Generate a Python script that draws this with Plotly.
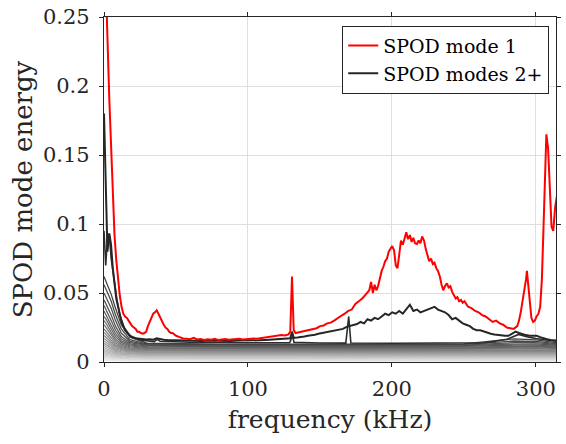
import plotly.graph_objects as go

# ---------------- data ----------------
mode1_freq = [0, 1.2, 2.4, 3.7, 4.9, 6.1, 7.3, 8.5, 9.8, 11.0, 12.2, 13.4, 14.6, 15.9, 17.1, 18.3, 19.5, 20.8,
              22.0, 23.2, 24.4, 25.6, 26.9, 28.1, 29.3, 30.5, 31.7, 33.0, 34.2, 35.4, 36.6, 37.8, 39.1, 40.3,
              41.5, 42.7, 44.0, 45.2, 46.4, 47.6, 48.8, 50.1, 52.5, 55.0, 57.4, 59.8, 62.3, 64.7, 67.1, 69.6,
              72.0, 74.5, 76.9, 79.3, 81.8, 84.2, 86.7, 89.1, 91.6, 94.0, 96.4, 98.9, 101.3, 103.8, 106.2,
              108.6, 111.1, 113.5, 115.9, 118.4, 120.8, 123.3, 125.7, 128.2, 129.4, 130.6, 131.8, 133.1,
              135.5, 137.9, 140.4, 142.8, 145.3, 147.7, 150.1, 152.6, 155.0, 157.5, 159.9, 162.4, 164.8,
              167.2, 169.7, 172.1, 174.6, 177.0, 179.4, 181.9, 184.3, 185.5, 186.8, 188.0, 189.2, 190.4,
              191.7, 192.9, 194.1, 195.3, 196.6, 197.8, 199.0, 200.2, 201.5, 202.7, 203.9, 205.1, 206.3,
              207.6, 208.8, 210.0, 211.2, 212.5, 213.7, 214.9, 216.1, 217.4, 218.6, 219.8, 221.0, 222.3,
              223.5, 224.7, 225.9, 227.2, 228.4, 229.6, 230.8, 232.0, 233.3, 234.5, 235.7, 236.9, 238.2,
              239.4, 240.6, 241.8, 243.1, 244.3, 245.5, 246.7, 248.0, 249.2, 250.4, 252.9, 255.3, 257.8,
              260.2, 262.7, 265.1, 267.5, 270.0, 272.4, 274.9, 277.3, 279.8, 282.2, 284.6, 287.1, 288.3,
              289.5, 290.7, 292.0, 293.2, 293.8, 294.4, 295.6, 296.9, 298.1, 299.3, 300.5, 301.8, 303.0,
              304.2, 305.4, 306.6, 307.3, 308.5, 309.7, 310.9, 312.1, 313.4, 314.6]
mode1_energy = [0.32, 0.27, 0.235, 0.19, 0.155, 0.117, 0.092, 0.074, 0.058, 0.048, 0.040, 0.035, 0.033, 0.032,
                0.030, 0.028, 0.026, 0.025, 0.024, 0.022, 0.022, 0.021, 0.0205, 0.021, 0.022, 0.026, 0.029,
                0.032, 0.035, 0.036, 0.0375, 0.035, 0.032, 0.030, 0.027, 0.025, 0.024, 0.022, 0.021, 0.021,
                0.020, 0.019, 0.018, 0.017, 0.0168, 0.0165, 0.0175, 0.0163, 0.0166, 0.016, 0.0165, 0.0162,
                0.0168, 0.016, 0.0163, 0.0166, 0.0162, 0.0165, 0.0163, 0.0168, 0.0163, 0.0166, 0.0165,
                0.017, 0.0168, 0.0172, 0.0175, 0.0178, 0.018, 0.0185, 0.019, 0.0195, 0.0192, 0.020, 0.022,
                0.062, 0.023, 0.021, 0.0215, 0.022, 0.0225, 0.023, 0.024, 0.0245, 0.026, 0.0265, 0.028,
                0.0285, 0.030, 0.032, 0.0335, 0.035, 0.037, 0.038, 0.042, 0.044, 0.046, 0.049, 0.052, 0.058,
                0.050, 0.056, 0.052, 0.055, 0.062, 0.066, 0.069, 0.073, 0.075, 0.080, 0.082, 0.084, 0.081,
                0.070, 0.068, 0.078, 0.088, 0.085, 0.090, 0.094, 0.089, 0.092, 0.087, 0.090, 0.086, 0.0855,
                0.088, 0.086, 0.091, 0.088, 0.082, 0.078, 0.073, 0.075, 0.071, 0.072, 0.068, 0.066, 0.062,
                0.056, 0.052, 0.055, 0.057, 0.054, 0.055, 0.051, 0.048, 0.046, 0.047, 0.044, 0.045, 0.043,
                0.044, 0.040, 0.039, 0.037, 0.036, 0.034, 0.033, 0.031, 0.029, 0.030, 0.028, 0.027, 0.025,
                0.0245, 0.024, 0.026, 0.030, 0.036, 0.044, 0.050, 0.060, 0.066, 0.060, 0.045, 0.032, 0.029,
                0.030, 0.033, 0.035, 0.040, 0.060, 0.100, 0.150, 0.165, 0.155, 0.130, 0.098, 0.095, 0.112,
                0.120]

mode2_freq = [0, 1.2, 2.4, 3.7, 4.9, 6.1, 7.3, 8.5, 9.8, 11.0, 12.2, 13.4, 14.6, 17.1, 19.5, 22.0, 24.4, 26.9,
              29.3, 31.7, 34.2, 36.6, 39.1, 41.5, 44.0, 48.8, 53.7, 58.6, 63.5, 68.4, 73.2, 78.1, 83.0, 87.9,
              92.8, 97.7, 102.5, 107.4, 112.3, 117.2, 122.1, 127.0, 129.4, 130.6, 131.8, 134.3, 136.7, 139.2,
              141.6, 144.0, 146.5, 148.9, 151.4, 153.8, 156.2, 158.7, 161.1, 163.6, 166.0, 168.5, 170.9,
              173.3, 175.8, 178.2, 180.7, 183.1, 185.5, 188.0, 190.4, 192.9, 195.3, 197.8, 200.2, 202.7,
              205.1, 207.6, 210.0, 212.5, 214.9, 217.4, 219.8, 222.3, 224.7, 227.2, 229.6, 232.0, 234.5,
              236.9, 239.4, 241.8, 244.3, 246.7, 249.2, 251.6, 254.1, 256.5, 259.0, 261.4, 263.8, 266.3,
              268.7, 271.2, 273.6, 276.1, 278.5, 281.0, 283.4, 285.9, 288.3, 290.7, 293.2, 295.6, 298.1,
              300.5, 303.0, 305.4, 307.8, 310.3, 312.7, 314.6]
mode2_energy = [0.18, 0.13, 0.08, 0.093, 0.085, 0.068, 0.055, 0.046, 0.040, 0.034, 0.029, 0.026, 0.023, 0.020,
                0.018, 0.0172, 0.0168, 0.0165, 0.0163, 0.0165, 0.0162, 0.0172, 0.0165, 0.0162, 0.016, 0.0158,
                0.0157, 0.0155, 0.0156, 0.0153, 0.0155, 0.0153, 0.0155, 0.0152, 0.0155, 0.0154, 0.0156,
                0.0157, 0.016, 0.0163, 0.0166, 0.017, 0.0172, 0.022, 0.0175, 0.0178, 0.018, 0.0185, 0.019,
                0.0193, 0.0198, 0.0205, 0.021, 0.0215, 0.022, 0.0222, 0.0232, 0.0235, 0.024, 0.0255, 0.026,
                0.027, 0.0275, 0.029, 0.028, 0.031, 0.030, 0.032, 0.031, 0.033, 0.035, 0.034, 0.036, 0.035,
                0.037, 0.035, 0.038, 0.0415, 0.037, 0.038, 0.036, 0.037, 0.038, 0.039, 0.040, 0.038, 0.037,
                0.036, 0.034, 0.031, 0.032, 0.030, 0.028, 0.027, 0.026, 0.024, 0.023, 0.023, 0.022, 0.021,
                0.0205, 0.020, 0.0195, 0.0192, 0.019, 0.019, 0.0205, 0.022, 0.021, 0.020, 0.0195, 0.019,
                0.0188, 0.019, 0.018, 0.017, 0.0165, 0.016, 0.0158, 0.0155]

mode3_freq = [0, 1.2, 2.4, 3.6, 5, 7, 9, 11, 14, 18, 25, 35, 37, 39, 60, 100, 129, 131, 132, 150, 168, 170,
              171.5, 200, 240, 265, 280, 288, 295, 300, 314.6]
mode3_energy = [0.095, 0.07, 0.09, 0.093, 0.075, 0.058, 0.045, 0.034, 0.025, 0.019, 0.016, 0.0148, 0.0165,
                0.015, 0.0143, 0.0140, 0.0140, 0.019, 0.0142, 0.0138, 0.0137, 0.033, 0.0138, 0.0136, 0.0136,
                0.0140, 0.0165, 0.020, 0.018, 0.017, 0.015]

# higher modes (4 .. 30) sampled at these frequencies
higher_freq = [0, 2, 5, 8, 12, 18, 30, 80, 170, 250, 285, 300, 314.6]
higher_energy = [
    [.062, .057, .049, .039, .027, .018, .0136, .0130, .0131, .0131, .0168, .0160, .0140],
    [.056, .051, .044, .034, .024, .0162, .0130, .0126, .0127, .0127, .0152, .0150, .0133],
    [.050, .046, .039, .030, .021, .0150, .0125, .0122, .0122, .0123, .0140, .0140, .0127],
    [.045, .041, .034, .026, .0185, .0140, .0120, .0117, .0117, .0118, .0130, .0131, .0121],
    [.041, .037, .030, .023, .0168, .0132, .0115, .0112, .0112, .0113, .0122, .0123, .0115],
    [.037, .033, .027, .0205, .0153, .0124, .0110, .0107, .0107, .0108, .0115, .0116, .0109],
    [.033, .030, .024, .0185, .0142, .0117, .0104, .0102, .0102, .0103, .0108, .0109, .0103],
    [.030, .027, .0215, .0167, .0131, .0110, .0099, .0097, .0097, .0098, .0102, .0103, .0098],
    [.027, .024, .0193, .0151, .0121, .0103, .0094, .0092, .0092, .0093, .0096, .0097, .0093],
    [.024, .0215, .0173, .0137, .0112, .0097, .0089, .0087, .0087, .0088, .0090, .0091, .0088],
    [.0215, .0193, .0156, .0124, .0104, .0091, .0084, .0082, .0082, .0083, .0085, .0086, .0083],
    [.0192, .0173, .0140, .0113, .0096, .0085, .0079, .0077, .0077, .0078, .0080, .0081, .0078],
    [.0171, .0155, .0126, .0103, .0089, .0079, .0074, .0072, .0072, .0073, .0075, .0076, .0073],
    [.0152, .0138, .0113, .0094, .0082, .0073, .0069, .0067, .0067, .0068, .0070, .0071, .0068],
    [.0135, .0123, .0101, .0085, .0075, .0068, .0064, .0062, .0062, .0063, .0065, .0066, .0063],
    [.0119, .0109, .0090, .0077, .0068, .0062, .0059, .0057, .0057, .0058, .0060, .0061, .0058],
    [.0105, .0096, .0080, .0069, .0062, .0057, .0054, .0052, .0052, .0053, .0055, .0055, .0053],
    [.0092, .0084, .0071, .0062, .0056, .0051, .0049, .0047, .0047, .0048, .0050, .0050, .0048],
    [.0080, .0073, .0062, .0055, .0050, .0046, .0044, .0042, .0042, .0043, .0044, .0045, .0043],
    [.0069, .0063, .0054, .0048, .0044, .0041, .0039, .0037, .0037, .0038, .0039, .0040, .0038],
    [.0059, .0054, .0047, .0042, .0038, .0036, .0034, .0032, .0032, .0033, .0034, .0035, .0033],
    [.0050, .0046, .0040, .0036, .0033, .0030, .0029, .0027, .0027, .0028, .0029, .0030, .0028],
    [.0041, .0038, .0033, .0030, .0027, .0025, .0024, .0022, .0022, .0023, .0024, .0024, .0023],
    [.0033, .0030, .0026, .0024, .0022, .0020, .0019, .0017, .0017, .0018, .0019, .0019, .0018],
    [.0025, .0023, .0020, .0018, .0016, .0015, .0014, .0012, .0012, .0013, .0014, .0014, .0013],
    [.0018, .0016, .0014, .0013, .0011, .0010, .0009, .0008, .0008, .0009, .0009, .0010, .0009],
    [.0011, .0010, .0009, .0008, .0007, .0006, .0005, .0004, .0004, .0005, .0005, .0005, .0005],
]

x_ticks = [0, 100, 200, 300]
y_ticks = [0, 0.05, 0.1, 0.15, 0.2, 0.25]
y_tick_labels = ["0", "0.05", "0.1", "0.15", "0.2", "0.25"]

# ---------------- figure ----------------
FONT = "DejaVu Serif"
INK = "rgb(38,38,38)"
fig = go.Figure()

n = len(higher_energy)
# draw lightest (highest mode) first
for i in reversed(range(n)):
    g = 0.26 + 0.68 * i / (n - 1)
    c = int(round(255 * g))
    fig.add_trace(go.Scatter(x=higher_freq, y=higher_energy[i], mode="lines",
                             line=dict(color=f"rgb({c},{c},{c})", width=1.3),
                             showlegend=False, hoverinfo="skip"))

fig.add_trace(go.Scatter(x=mode3_freq, y=mode3_energy, mode="lines",
                         line=dict(color="rgb(45,45,45)", width=1.6),
                         showlegend=False, hoverinfo="skip"))
fig.add_trace(go.Scatter(x=mode2_freq, y=mode2_energy, mode="lines", name="SPOD modes 2+",
                         line=dict(color=INK, width=2)))
fig.add_trace(go.Scatter(x=mode1_freq, y=mode1_energy, mode="lines", name="SPOD mode 1",
                         line=dict(color="rgb(255,0,0)", width=2)))

axis_common = dict(showline=True, linecolor=INK, linewidth=1.3, mirror="allticks",
                   ticks="outside", ticklen=4, tickwidth=1.3, tickcolor=INK,
                   showgrid=True, gridcolor="rgb(223,223,223)", gridwidth=1, zeroline=False,
                   tickfont=dict(family=FONT, size=21, color=INK))

fig.update_layout(
    width=566, height=444,
    margin=dict(l=104, r=5, t=14, b=82),
    paper_bgcolor="white", plot_bgcolor="white",
    font=dict(family=FONT),
    xaxis=dict(range=[0, 314], tickvals=x_ticks, ticklabelstandoff=4,
               title=dict(text="frequency (kHz)", font=dict(family=FONT, size=25, color=INK),
                          standoff=10),
               **axis_common),
    yaxis=dict(range=[0, 0.25], tickvals=y_ticks, ticktext=y_tick_labels, ticklabelstandoff=5,
               title=dict(text="SPOD mode energy", font=dict(family=FONT, size=26, color=INK),
                          standoff=2),
               **axis_common),
    legend=dict(x=0.985, y=0.975, xanchor="right", yanchor="top",
                bgcolor="white", bordercolor=INK, borderwidth=1,
                font=dict(family=FONT, size=19, color="black"),
                traceorder="reversed", tracegroupgap=0, itemwidth=30),
    showlegend=True,
)

fig.write_html("out.html")
